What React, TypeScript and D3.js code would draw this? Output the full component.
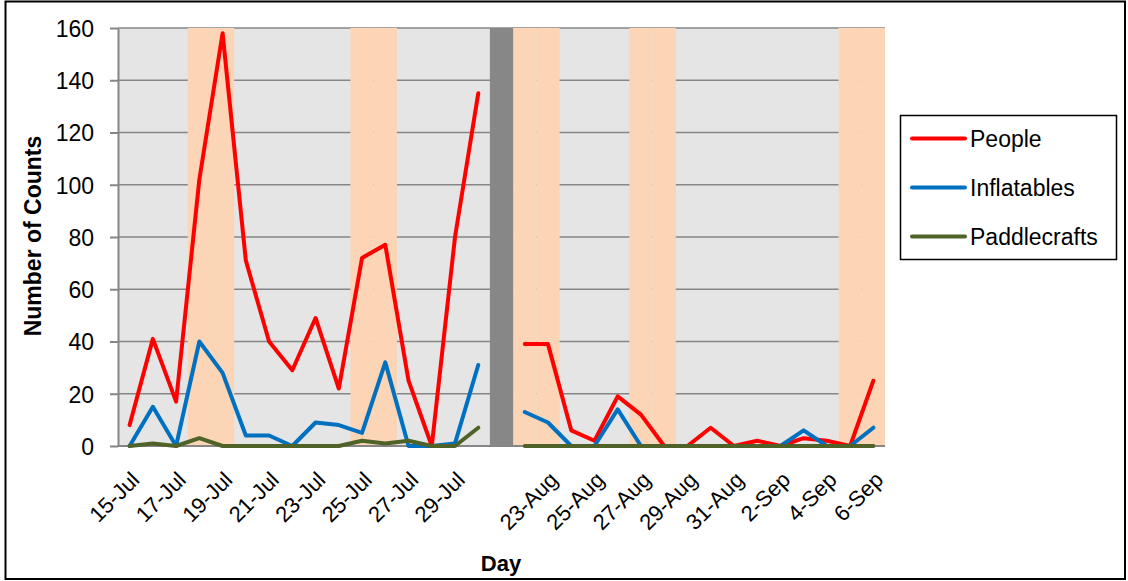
import { useEffect, useRef } from 'react'

import { axisLeft, line, scaleBand, scaleLinear, select } from 'd3'

// categories: the blank one is the break between the two sampling periods
const days = [
  '15-Jul', '16-Jul', '17-Jul', '18-Jul', '19-Jul', '20-Jul', '21-Jul', '22-Jul',
  '23-Jul', '24-Jul', '25-Jul', '26-Jul', '27-Jul', '28-Jul', '29-Jul', '30-Jul',
  '',
  '22-Aug', '23-Aug', '24-Aug', '25-Aug', '26-Aug', '27-Aug', '28-Aug', '29-Aug',
  '30-Aug', '31-Aug', '1-Sep', '2-Sep', '3-Sep', '4-Sep', '5-Sep', '6-Sep',
]

const people = [
  8, 41, 17, 102, 158, 71, 40, 29, 49, 22, 72, 77, 25, 0, 80, 135,
  null,
  39, 39, 6, 2, 19, 12, 0, 0, 7, 0, 2, 0, 3, 2, 0, 25,
]
const inflatables = [
  0, 15, 0, 40, 28, 4, 4, 0, 9, 8, 5, 32, 0, 0, 1, 31,
  null,
  13, 9, 0, 0, 14, 0, 0, 0, 0, 0, 0, 0, 6, 0, 0, 7,
]
const paddlecrafts = [
  0, 1, 0, 3, 0, 0, 0, 0, 0, 0, 2, 1, 2, 0, 0, 7,
  null,
  0, 0, 0, 0, 0, 0, 0, 0, 0, 0, 0, 0, 0, 0, 0, 0,
]

const shadedDays = ['18-Jul', '19-Jul', '25-Jul', '26-Jul', '22-Aug', '23-Aug', '27-Aug', '28-Aug', '5-Sep', '6-Sep']
const yTicks = [0, 20, 40, 60, 80, 100, 120, 140, 160]

const seriesNames = ['People', 'Inflatables', 'Paddlecrafts']
const seriesColors = ['#ff0000', '#0070c0', '#4f6228']

const FONT = '"Liberation Sans", Arial, sans-serif'

export default function App() {
  const svgRef = useRef<SVGSVGElement | null>(null)

  useEffect(() => {
    if (!svgRef.current) {
      return
    }
    const width = 1128
    const height = 581
    const plot = { left: 118, right: 885, top: 28, bottom: 446 }

    const svg = select(svgRef.current)
    svg.selectAll('*').remove()
    svg.attr('width', width).attr('height', height).attr('font-family', FONT)

    const keys = days.map((_, i) => String(i))
    const x = scaleBand<string>().domain(keys).range([plot.left, plot.right]).padding(0)
    const bw = x.bandwidth()
    const cx = (i: number) => (x(String(i)) ?? 0) + bw / 2
    const y = scaleLinear().domain([0, 160]).range([plot.bottom, plot.top])

    svg.append('rect').attr('width', width).attr('height', height).attr('fill', '#fff')
    svg
      .append('rect')
      .attr('x', 5.5)
      .attr('y', 1.5)
      .attr('width', 1119.5)
      .attr('height', 577.5)
      .attr('fill', 'none')
      .attr('stroke', '#000')
      .attr('stroke-width', 2)

    svg
      .append('rect')
      .attr('x', plot.left)
      .attr('y', plot.top)
      .attr('width', plot.right - plot.left)
      .attr('height', plot.bottom - plot.top)
      .attr('fill', '#e5e5e5')

    svg
      .append('g')
      .selectAll('line')
      .data(yTicks.filter(t => t > 0))
      .join('line')
      .attr('x1', plot.left)
      .attr('x2', plot.right)
      .attr('y1', d => y(d))
      .attr('y2', d => y(d))
      .attr('stroke', '#868686')
      .attr('stroke-width', 1.5)

    // weekend shading sits on top of the gridlines
    svg
      .append('g')
      .selectAll('rect')
      .data(days.map((d, i) => ({ d, i })).filter(o => shadedDays.includes(o.d)))
      .join('rect')
      .attr('x', o => x(String(o.i)) ?? 0)
      .attr('y', plot.top)
      .attr('width', bw)
      .attr('height', plot.bottom - plot.top)
      .attr('fill', '#fbd5b5')

    svg
      .append('g')
      .selectAll('rect')
      .data(days.map((d, i) => ({ d, i })).filter(o => o.d === ''))
      .join('rect')
      .attr('x', o => x(String(o.i)) ?? 0)
      .attr('y', plot.top)
      .attr('width', bw)
      .attr('height', plot.bottom - plot.top)
      .attr('fill', '#878787')

    // axes
    svg
      .append('g')
      .attr('transform', `translate(${plot.left},0)`)
      .call(axisLeft(y).tickValues(yTicks).tickSize(8).tickPadding(16).tickSizeOuter(0))
      .call(g => g.select('.domain').attr('stroke', '#868686').attr('stroke-width', 2))
      .call(g => g.selectAll('.tick line').attr('stroke', '#868686').attr('stroke-width', 2))
      .call(g =>
        g
          .selectAll('.tick text')
          .attr('font-family', FONT)
          .attr('font-size', 23)
          .attr('fill', '#000')
          .attr('dy', '0.36em')
      )

    svg
      .append('line')
      .attr('x1', plot.left)
      .attr('x2', plot.right)
      .attr('y1', plot.bottom)
      .attr('y2', plot.bottom)
      .attr('stroke', '#868686')
      .attr('stroke-width', 2)

    svg
      .append('g')
      .selectAll('text')
      .data(days.map((d, i) => ({ d, i })).filter(o => o.i % 2 === 0 && o.d !== ''))
      .join('text')
      .attr('transform', o => `translate(${cx(o.i)},${plot.bottom + 24}) rotate(-45)`)
      .attr('text-anchor', 'end')
      .attr('dy', '0.72em')
      .attr('font-size', 22)
      .attr('fill', '#000')
      .text(o => o.d)

    // series
    const allSeries = [people, inflatables, paddlecrafts]
    const path = line<number | null>()
      .defined(v => v !== null)
      .x((_, i) => cx(i))
      .y(v => y(v ?? 0))

    allSeries.forEach((values, s) => {
      svg
        .append('path')
        .attr('d', path(values))
        .attr('fill', 'none')
        .attr('stroke', seriesColors[s])
        .attr('stroke-width', 4)
        .attr('stroke-linejoin', 'round')
        .attr('stroke-linecap', 'round')
    })

    // titles
    svg
      .append('text')
      .attr('transform', 'translate(41,236) rotate(-90)')
      .attr('text-anchor', 'middle')
      .attr('font-size', 23)
      .attr('font-weight', 'bold')
      .text('Number of Counts')

    svg
      .append('text')
      .attr('x', 501)
      .attr('y', 571)
      .attr('text-anchor', 'middle')
      .attr('font-size', 22)
      .attr('font-weight', 'bold')
      .text('Day')

    // legend
    const legend = svg.append('g')
    legend
      .append('rect')
      .attr('x', 900.5)
      .attr('y', 115.5)
      .attr('width', 216)
      .attr('height', 144)
      .attr('fill', '#fff')
      .attr('stroke', '#000')
      .attr('stroke-width', 1.5)

    seriesNames.forEach((name, s) => {
      const ly = 138.5 + s * 49
      legend
        .append('line')
        .attr('x1', 912)
        .attr('x2', 965)
        .attr('y1', ly)
        .attr('y2', ly)
        .attr('stroke', seriesColors[s])
        .attr('stroke-width', 4)
        .attr('stroke-linecap', 'round')
      legend
        .append('text')
        .attr('x', 970)
        .attr('y', ly + 8)
        .attr('font-size', 23)
        .attr('fill', '#000')
        .text(name)
    })
  }, [])

  return (
    <div style={{ position: 'absolute', left: 0, top: 0 }}>
      <svg ref={svgRef} style={{ display: 'block' }} />
    </div>
  )
}
